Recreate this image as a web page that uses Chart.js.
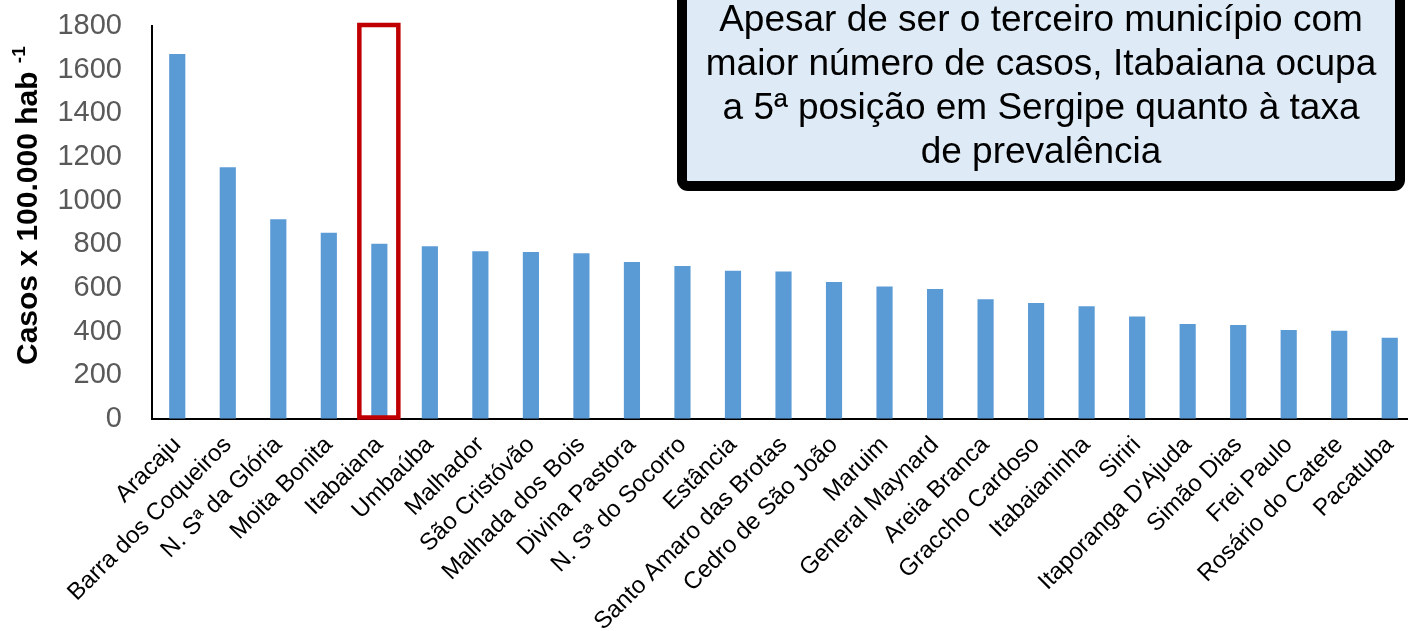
<!DOCTYPE html>
<html>
<head>
<meta charset="utf-8">
<script src="https://cdn.jsdelivr.net/npm/chart.js@4"></script>
<style>
  body { margin: 0; background: #fff; overflow: hidden; }
  #wrap { width: 1415px; height: 631px; position: relative; }
</style>
</head>
<body>
<div id="wrap"><canvas id="mainChart"></canvas></div>
<script>
// municipios de Sergipe, taxa de prevalencia
const municipios = ['Aracaju', 'Barra dos Coqueiros', 'N. Sª da Glória', 'Moita Bonita', 'Itabaiana',
  'Umbaúba', 'Malhador', 'São Cristóvão', 'Malhada dos Bois', 'Divina Pastora', 'N. Sª do Socorro',
  'Estância', 'Santo Amaro das Brotas', 'Cedro de São João', 'Maruim', 'General Maynard',
  'Areia Branca', 'Graccho Cardoso', 'Itabaianinha', 'Siriri', "Itaporanga D'Ajuda", 'Simão Dias',
  'Frei Paulo', 'Rosário do Catete', 'Pacatuba'];
const casos = [1672, 1153, 915, 853, 803, 791, 768, 765, 759, 719, 701, 679, 676, 627, 607,
  595, 548, 531, 516, 470, 435, 430, 408, 404, 372];
const yTicks = [0, 200, 400, 600, 800, 1000, 1200, 1400, 1600, 1800];
const destaque = 'Itabaiana';
const notaLinhas = [
  'Apesar de ser o terceiro município com',
  'maior número de casos, Itabaiana ocupa',
  'a 5ª posição em Sergipe quanto à taxa',
  'de prevalência'
];
const tituloY = 'Casos x 100.000 hab';
const tituloYSup = '-1';

const FONT = "'Liberation Sans', Arial, sans-serif";

const extras = {
  id: 'extras',
  afterDraw(chart) {
    const ctx = chart.ctx;
    const x = chart.scales.x, y = chart.scales.y;

    // red box around the highlighted bar
    const i = municipios.indexOf(destaque);
    const cx = x.getPixelForValue(i);
    ctx.save();
    ctx.strokeStyle = '#C00000';
    ctx.lineWidth = 4.5;
    ctx.strokeRect(cx - 20, y.getPixelForValue(1800) - 1, 39, y.getPixelForValue(0) - y.getPixelForValue(1800) - 0.5);
    ctx.restore();

    // y axis title with superscript
    ctx.save();
    ctx.translate(37, 365);
    ctx.rotate(-Math.PI / 2);
    ctx.fillStyle = '#000';
    ctx.font = 'bold 30px ' + FONT;
    ctx.textBaseline = 'alphabetic';
    ctx.fillText(tituloY, 0, 0);
    const w = ctx.measureText(tituloY + ' ').width;
    ctx.font = 'bold 19px ' + FONT;
    ctx.fillText(tituloYSup, w, -12);
    ctx.restore();

    // note box
    ctx.save();
    ctx.fillStyle = '#DEEBF7';
    ctx.strokeStyle = '#000';
    ctx.lineWidth = 10;
    ctx.beginPath();
    ctx.roundRect(682, -20, 718, 206, 6);
    ctx.fill();
    ctx.stroke();
    ctx.fillStyle = '#000';
    ctx.font = '37px ' + FONT;
    ctx.textAlign = 'center';
    ctx.textBaseline = 'middle';
    notaLinhas.forEach((t, k) => ctx.fillText(t, 1041, 21 + k * 44));
    ctx.restore();
  }
};

new Chart(document.getElementById('mainChart'), {
  type: 'bar',
  data: {
    labels: municipios,
    datasets: [{
      data: casos,
      backgroundColor: '#5B9BD5',
      borderWidth: 0,
      categoryPercentage: 1,
      barPercentage: 0.32
    }]
  },
  options: {
    responsive: true,
    maintainAspectRatio: false,
    animation: false,
    layout: { padding: { top: 26, left: 0, right: 0, bottom: 0 } },
    plugins: { legend: { display: false }, tooltip: { enabled: false } },
    scales: {
      x: {
        grid: { display: false },
        border: { display: true, color: '#000', width: 2 },
        ticks: {
          autoSkip: false,
          maxRotation: 45,
          minRotation: 45,
          padding: 4,
          color: '#000',
          font: { family: FONT, size: 24 }
        },
        afterFit: s => { s.height = 212; }
      },
      y: {
        min: 0,
        max: 1800,
        afterBuildTicks: s => { s.ticks = yTicks.map(v => ({ value: v })); },
        grid: { display: true, drawOnChartArea: false, drawTicks: true, tickLength: 28, color: 'rgba(0,0,0,0)' },
        border: { display: true, color: '#000', width: 2 },
        ticks: {
          padding: 2,
          color: '#595959',
          font: { family: FONT, size: 29 },
          callback: v => String(v)
        },
        afterFit: s => { s.width = 152; }
      }
    }
  },
  plugins: [extras]
});
</script>
</body>
</html>
